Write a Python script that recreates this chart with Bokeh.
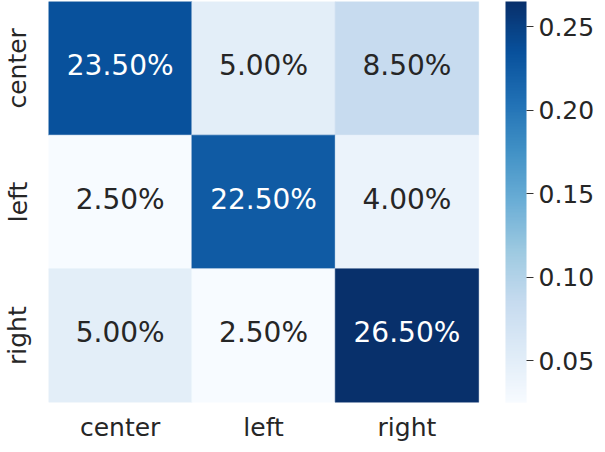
import numpy as np
from bokeh.plotting import figure
from bokeh.models import (ColumnDataSource, LinearColorMapper, ColorBar, Range1d,
                          FixedTicker, PrintfTickFormatter)
from bokeh.palettes import Blues256
from bokeh.transform import transform
from bokeh.core.properties import value
from bokeh.embed import file_html
from bokeh.resources import INLINE

# ---- data ----
labels = ["center", "left", "right"]          # row (y) and column (x) categories
row_center = [0.235, 0.050, 0.085]
row_left = [0.025, 0.225, 0.040]
row_right = [0.050, 0.025, 0.265]
cbar_ticks = [0.05, 0.10, 0.15, 0.20, 0.25]
vmin, vmax = 0.025, 0.265

matrix = [row_center, row_left, row_right]

# ---- colours ----
def rel_lum(hexc):
    r, g, b = [int(hexc[i:i + 2], 16) / 255 for i in (1, 3, 5)]
    f = lambda c: c / 12.92 if c <= 0.03928 else ((c + 0.055) / 1.055) ** 2.4
    return 0.2126 * f(r) + 0.7152 * f(g) + 0.0722 * f(b)

palette = list(Blues256)
if rel_lum(palette[0]) < rel_lum(palette[-1]):
    palette = palette[::-1]          # light -> dark
mapper = LinearColorMapper(palette=palette, low=vmin, high=vmax)

xs, ys, vals, txt, tcol = [], [], [], [], []
for i, row in enumerate(matrix):
    for j, v in enumerate(row):
        xs.append(j + 0.5)
        ys.append(i + 0.5)
        vals.append(v)
        txt.append(f"{v * 100:.2f}%")
        idx = int(np.clip((v - vmin) / (vmax - vmin) * len(palette), 0, len(palette) - 1))
        tcol.append("#262626" if rel_lum(palette[idx]) > 0.408 else "#ffffff")

src = ColumnDataSource(dict(x=xs, y=ys, v=vals, t=txt, c=tcol))

GAP = 27 / 144  # blank space between heatmap and colour bar, in cell units

p = figure(width=597, height=444,
           x_range=Range1d(0, 3 + GAP), y_range=Range1d(3, 0),
           output_backend="svg", toolbar_location=None,
           min_border_left=48, min_border_top=1, min_border_right=0, min_border_bottom=40)
p.outline_line_color = None
p.grid.visible = False
p.background_fill_color = "white"
p.border_fill_color = "white"

p.rect(x="x", y="y", width=1, height=1, source=src,
       fill_color=transform("v", mapper), line_color=transform("v", mapper), line_width=0.6)
p.text(x="x", y="y", text="t", source=src, text_align="center", text_baseline="middle",
       y_offset=-3,
       text_font=value("DejaVu Sans"), text_font_size="28px", text_color="c")

tick_pos = [k + 0.5 for k in range(len(labels))]
for ax in (p.xaxis[0], p.yaxis[0]):
    ax.ticker = FixedTicker(ticks=tick_pos)
    ax.major_label_overrides = {pos: lab for pos, lab in zip(tick_pos, labels)}
    ax.axis_line_color = None
    ax.major_tick_line_color = None
    ax.minor_tick_line_color = None
    ax.major_tick_out = 0
    ax.major_tick_in = 0
    ax.minor_tick_out = 0
    ax.minor_tick_in = 0
    ax.major_label_text_font = "DejaVu Sans"
    ax.major_label_text_font_size = "25px"
    ax.major_label_text_color = "#262626"
p.yaxis.major_label_orientation = "vertical"
p.xaxis.major_label_standoff = 10
p.yaxis.major_label_standoff = 16

cb = ColorBar(color_mapper=mapper, width=21, margin=0, padding=0,
              ticker=FixedTicker(ticks=cbar_ticks),
              formatter=PrintfTickFormatter(format="%.2f"),
              major_tick_in=0, major_tick_out=7, major_tick_line_color="#333333",
              minor_tick_line_color=None,
              label_standoff=5, major_label_text_font="DejaVu Sans",
              major_label_text_font_size="25px", major_label_text_color="#262626",
              bar_line_color=None, border_line_color=None, background_fill_color=None)
p.add_layout(cb, "right")

open("out.html", "w").write(file_html(p, INLINE))
